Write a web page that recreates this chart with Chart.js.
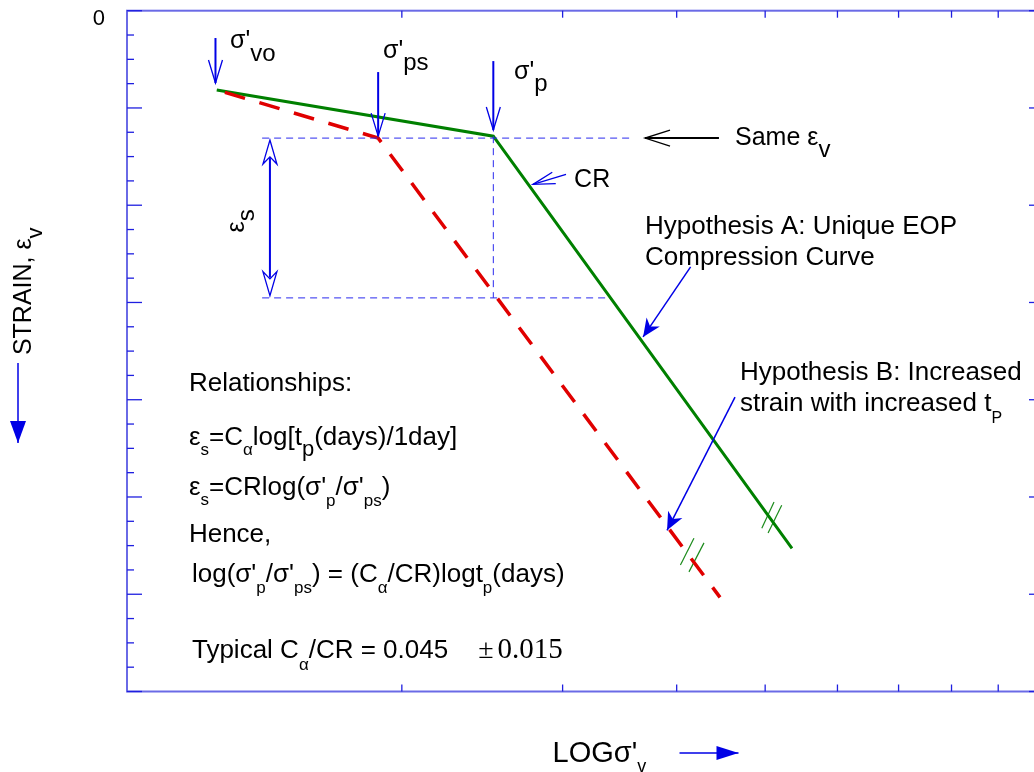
<!DOCTYPE html>
<html>
<head>
<meta charset="utf-8">
<script src="https://cdn.jsdelivr.net/npm/chart.js@4.4.0/dist/chart.umd.min.js"></script>
<style>
  html, body { margin: 0; padding: 0; background: #fff; overflow: hidden; }
  #wrap { position: relative; width: 1044px; height: 772px; }
</style>
</head>
<body>
<div id="wrap"><canvas id="chart"></canvas></div>
<script>
// one log decade of effective stress on x, strain (downward) on y
const xMin = 1, xMax = 10;
const yMin = 0, yMax = 7;
const xTickValues = [2, 3, 4, 5, 6, 7, 8, 9];

// Hypothesis A: unique EOP compression curve
const hypAX = [1.254, 2.519, 5.35];
const hypAY = [0.816, 1.29, 5.528];
// Hypothesis B: increased strain with increased tp
const hypBX = [1.28, 1.884, 4.462];
const hypBY = [0.84, 1.31, 6.032];

// dashed guide lines
const sameStrainX = [1.406, 3.573];
const sameStrainY = [1.31, 1.31];
const lowStrainX = [1.406, 3.356];
const lowStrainY = [2.953, 2.953];
const peakDropX = [2.519, 2.519];
const peakDropY = [1.29, 2.953];

// "//" break marks on both curves
const breakA1X = [4.958, 5.113], breakA1Y = [5.322, 5.051];
const breakA2X = [5.037, 5.213], breakA2Y = [5.370, 5.085];
const breakB1X = [4.038, 4.178], breakB1Y = [5.700, 5.425];
const breakB2X = [4.126, 4.285], breakB2Y = [5.770, 5.472];

// stress marker arrows (sigma'vo, sigma'ps, sigma'p)
const stressArrowX = [1.25, 1.884, 2.519];
const stressArrowFromY = [0.281, 0.631, 0.518];
const stressArrowToY = [0.744, 1.289, 1.227];

// eps_s double arrow
const epsArrowX = 1.434;
const epsArrowY = [1.33, 2.93];

const SANS = '"Liberation Sans", Arial, Helvetica, sans-serif';
const SERIF = '"Liberation Serif", "Times New Roman", serif';
const BLUE = '#0000e6';

const pts = (xs, ys) => xs.map((x, i) => ({ x: x, y: ys[i] }));

function guide(xs, ys) {
    return { data: pts(xs, ys), borderColor: '#2a2aee', borderWidth: 1, borderDash: [7, 5], pointRadius: 0, showLine: true };
}
function breakMark(xs, ys) {
    return { data: pts(xs, ys), borderColor: '#1a8a1a', borderWidth: 1.2, pointRadius: 0, showLine: true };
}

const sub = (t, size, dy) => ({ t: t, size: size, dy: dy });

function rich(ctx, x, y, parts, size, rot) {
    ctx.save();
    ctx.translate(x, y);
    if (rot) ctx.rotate(rot);
    ctx.textAlign = 'left';
    ctx.textBaseline = 'alphabetic';
    let cx = 0;
    parts.forEach(p => {
        if (typeof p === 'number') { cx += p; return; }
        const s = typeof p === 'string' ? { t: p } : p;
        ctx.font = (s.size || size) + 'px ' + (s.serif ? SERIF : SANS);
        ctx.fillText(s.t, cx, s.dy || 0);
        cx += ctx.measureText(s.t).width;
    });
    ctx.restore();
}

function head(ctx, from, to, len, half, style) {
    const a = Math.atan2(to[1] - from[1], to[0] - from[0]);
    const c = Math.cos(a), s = Math.sin(a);
    const bx = to[0] - len * c, by = to[1] - len * s;
    const nx = -s * half, ny = c * half;
    ctx.beginPath();
    if (style === 'open') {
        ctx.moveTo(bx + nx, by + ny);
        ctx.lineTo(to[0], to[1]);
        ctx.lineTo(bx - nx, by - ny);
        ctx.stroke();
        return;
    }
    const mx = to[0] - len * 0.7 * c, my = to[1] - len * 0.7 * s;
    ctx.moveTo(to[0], to[1]);
    ctx.lineTo(bx + nx, by + ny);
    ctx.lineTo(mx, my);
    ctx.lineTo(bx - nx, by - ny);
    ctx.closePath();
    if (style === 'filled') ctx.fill(); else ctx.stroke();
}

function line(ctx, p, q) {
    ctx.beginPath();
    ctx.moveTo(p[0], p[1]);
    ctx.lineTo(q[0], q[1]);
    ctx.stroke();
}

const annotate = {
    id: 'annotate',
    afterDraw(chart) {
        const ctx = chart.ctx;
        const a = chart.chartArea;
        const sx = chart.scales.x, sy = chart.scales.y;
        const P = (x, y) => [sx.getPixelForValue(x), sy.getPixelForValue(y)];
        ctx.save();

        // frame
        ctx.strokeStyle = '#6a6ae6';
        ctx.lineWidth = 2;
        ctx.strokeRect(a.left, a.top, a.right - a.left, a.bottom - a.top);

        // inward ticks
        ctx.strokeStyle = '#1f1fe0';
        ctx.lineWidth = 1.3;
        sy.ticks.forEach(t => {
            const py = sy.getPixelForValue(t.value);
            const major = Math.abs(t.value - Math.round(t.value)) < 1e-6;
            line(ctx, [a.left, py], [a.left + (major ? 15 : 7), py]);
            line(ctx, [a.right, py], [a.right - (major ? 11 : 3), py]);
        });
        xTickValues.forEach(v => {
            const px = sx.getPixelForValue(v);
            line(ctx, [px, a.bottom], [px, a.bottom - 7]);
            line(ctx, [px, a.top], [px, a.top + 7]);
        });

        // stress marker arrows
        ctx.strokeStyle = BLUE;
        ctx.fillStyle = BLUE;
        stressArrowX.forEach((x, i) => {
            const from = P(x, stressArrowFromY[i]), to = P(x, stressArrowToY[i]);
            ctx.lineWidth = 2;
            line(ctx, from, to);
            ctx.lineWidth = 1.3;
            head(ctx, from, to, 23, 7, 'open');
        });

        // eps_s double arrow
        const e1 = P(epsArrowX, epsArrowY[0]), e2 = P(epsArrowX, epsArrowY[1]);
        ctx.lineWidth = 2;
        line(ctx, [e1[0], e1[1] + 18], [e2[0], e2[1] - 18]);
        ctx.lineWidth = 1.3;
        head(ctx, e2, e1, 24, 7, 'hollow');
        head(ctx, e1, e2, 24, 7, 'hollow');

        // CR pointer
        ctx.lineWidth = 1.3;
        const c1 = P(3.026, 1.682), c2 = P(2.784, 1.786);
        line(ctx, c1, c2);
        head(ctx, c1, c2, 22, 6, 'open');

        // hypothesis pointers
        ctx.lineWidth = 1.5;
        const ha1 = P(4.143, 2.634), ha2 = P(3.675, 3.354);
        line(ctx, ha1, ha2);
        head(ctx, ha1, ha2, 18, 8, 'filled');
        const hb1 = P(4.634, 3.974), hb2 = P(3.904, 5.343);
        line(ctx, hb1, hb2);
        head(ctx, hb1, hb2, 18, 8, 'filled');

        // same strain pointer
        ctx.strokeStyle = '#000';
        ctx.lineWidth = 2;
        const s1 = P(4.45, 1.31), s2 = P(3.693, 1.31);
        line(ctx, s1, s2);
        ctx.lineWidth = 1.3;
        head(ctx, s1, s2, 25, 8, 'open');

        // texts
        ctx.fillStyle = '#000';
        let q;
        q = P(1.297, 0.384); rich(ctx, q[0], q[1], ["σ'", sub('vo', 24, 13)], 25);
        q = P(1.907, 0.490); rich(ctx, q[0], q[1], ["σ'", sub('ps', 24, 12)], 25);
        q = P(2.654, 0.706); rich(ctx, q[0], q[1], ["σ'", sub('p', 24, 12)], 25);
        q = P(4.634, 1.382); rich(ctx, q[0], q[1], ['Same ε', sub('v', 24, 12)], 25);
        q = P(3.088, 1.811); rich(ctx, q[0], q[1], ['CR'], 25);
        q = P(3.693, 2.297); rich(ctx, q[0], q[1], ['Hypothesis A: Unique EOP'], 26);
        q = P(3.693, 2.616); rich(ctx, q[0], q[1], ['Compression Curve'], 26);
        q = P(4.692, 3.799); rich(ctx, q[0], q[1], ['Hypothesis B: Increased'], 26);
        q = P(4.692, 4.118); rich(ctx, q[0], q[1], ['strain with increased t', sub('P', 16, 12)], 26);
        q = P(1.336, 2.28); rich(ctx, q[0] + 2, q[1], ['ε', sub('s', 24, 10)], 25, -Math.PI / 2);

        q = P(1.169, 3.912); rich(ctx, q[0], q[1], ['Relationships:'], 26);
        q = P(1.169, 4.468); rich(ctx, q[0], q[1], ['ε', sub('s', 17, 10), '=C', sub('α', 17, 10), 'log[t', sub('p', 22, 11), '(days)/1day]'], 26);
        q = P(1.169, 4.982); rich(ctx, q[0], q[1], ['ε', sub('s', 17, 10), "=CRlog(σ'", sub('p', 17, 11), "/σ'", sub('ps', 17, 11), ')'], 26);
        q = P(1.169, 5.466); rich(ctx, q[0], q[1], ['Hence,'], 26);
        q = P(1.178, 5.877); rich(ctx, q[0], q[1], ["log(σ'", sub('p', 17, 11), "/σ'", sub('ps', 17, 11), ') = (C', sub('α', 17, 11), '/CR)logt', sub('p', 17, 11), '(days)'], 26);
        q = P(1.178, 6.659); rich(ctx, q[0], q[1], ['Typical C', sub('α', 17, 12), '/CR = 0.045', 30, { t: '±', serif: true, size: 28 }, 4, { t: '0.015', serif: true, size: 29 }], 26);

        // axis titles
        const mid = (a.top + a.bottom) / 2;
        rich(ctx, a.left - 96, mid + 4, ['STRAIN, ε', sub('v', 22, 11)], 25, -Math.PI / 2);
        const cx = (a.left + a.right) / 2;
        rich(ctx, cx - 31, a.bottom + 70, ["LOGσ'", sub('v', 18, 10)], 29);

        // axis direction arrows
        ctx.strokeStyle = BLUE;
        ctx.fillStyle = BLUE;
        ctx.lineWidth = 1.5;
        const ya = [a.left - 109, mid + 12], yb = [a.left - 109, mid + 92];
        line(ctx, ya, yb);
        ctx.beginPath();
        ctx.moveTo(yb[0], yb[1]); ctx.lineTo(yb[0] - 8, yb[1] - 22); ctx.lineTo(yb[0] + 8, yb[1] - 22); ctx.closePath(); ctx.fill();
        const xa = [cx + 96, a.bottom + 61.5], xb = [cx + 155, a.bottom + 61.5];
        line(ctx, xa, xb);
        ctx.beginPath();
        ctx.moveTo(xb[0], xb[1]); ctx.lineTo(xb[0] - 22, xb[1] - 7); ctx.lineTo(xb[0] - 22, xb[1] + 7); ctx.closePath(); ctx.fill();

        ctx.restore();
    }
};

new Chart(document.getElementById('chart').getContext('2d'), {
    type: 'scatter',
    data: {
        datasets: [
            guide(sameStrainX, sameStrainY),
            guide(lowStrainX, lowStrainY),
            guide(peakDropX, peakDropY),
            { data: pts(hypBX, hypBY), borderColor: '#e00000', borderWidth: 3.5, borderDash: [21, 15], pointRadius: 0, showLine: true },
            { data: pts(hypAX, hypAY), borderColor: '#008000', borderWidth: 3, pointRadius: 0, showLine: true },
            breakMark(breakA1X, breakA1Y),
            breakMark(breakA2X, breakA2Y),
            breakMark(breakB1X, breakB1Y),
            breakMark(breakB2X, breakB2Y)
        ]
    },
    options: {
        responsive: true,
        maintainAspectRatio: false,
        animation: false,
        layout: { padding: { left: 0, top: 10.7, right: 4, bottom: 80.5 } },
        plugins: { legend: { display: false }, tooltip: { enabled: false } },
        scales: {
            x: { type: 'logarithmic', min: xMin, max: xMax, display: false },
            y: {
                type: 'linear', reverse: true, min: yMin, max: yMax,
                grid: { display: false, drawTicks: false },
                border: { display: false },
                ticks: {
                    stepSize: 0.25, autoSkip: false, padding: 22, labelOffset: 8,
                    color: '#000', font: { family: SANS, size: 22 },
                    callback: v => (v === 0 ? '0' : '')
                },
                afterFit: s => { s.width = 127; s.paddingTop = 0; s.paddingBottom = 0; }
            }
        }
    },
    plugins: [annotate]
});
</script>
</body>
</html>
